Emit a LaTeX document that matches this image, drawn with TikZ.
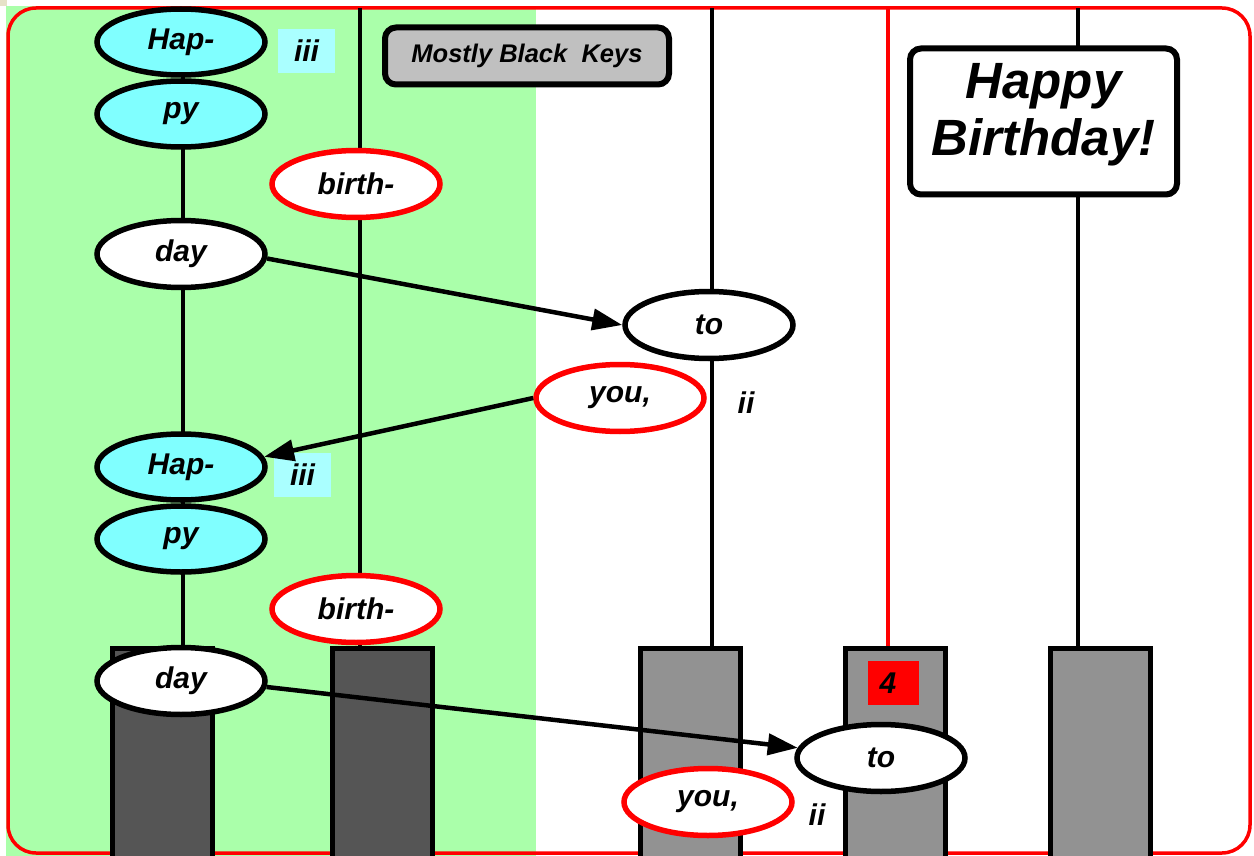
\documentclass[tikz,border=0pt]{standalone}
\usepackage{fontspec}
\setmainfont{Liberation Sans}
\usetikzlibrary{shapes.geometric,arrows.meta}
\definecolor{keygreen}{HTML}{AAFFAA}
\definecolor{cyanfill}{HTML}{80FFFF}
\definecolor{lightcyan}{HTML}{AAFFFF}
\definecolor{darkkey}{HTML}{555555}
\definecolor{lightkey}{HTML}{929292}
\definecolor{boxgray}{HTML}{C0C0C0}
\definecolor{cornertan}{HTML}{E6E2C8}
\begin{document}
\begin{tikzpicture}[x=1pt,y=-1pt,
  bi/.style={font=\fontsize{30}{35}\selectfont\bfseries\itshape},
  word/.style={ellipse, draw, line width=5.5pt, minimum width=168pt, minimum height=67pt, inner sep=0pt, fill=white, bi},
  cyanword/.style={word, fill=cyanfill, minimum height=66pt},
  redword/.style={word, draw=red},
  tagtext/.style={inner sep=0pt, bi},
  tagbox/.style={fill=lightcyan, minimum width=57pt, minimum height=44pt, inner sep=0pt, bi},
  keyline/.style={line width=4pt},
  darkbar/.style={rectangle, draw, line width=5pt, fill=darkkey, minimum width=100pt, minimum height=240pt, anchor=north, inner sep=0pt},
  lightbar/.style={darkbar, fill=lightkey},
  arrowline/.style={line width=4.5pt, -{Triangle[length=30pt,width=21pt]}},
  titlebox/.style={draw, line width=6pt, rounded corners=11pt, inner sep=0pt}
]
\useasboundingbox (0,0) rectangle (1254,856);
\fill[white] (0,0) rectangle (1254,856);
\fill[keygreen] (6,6) rectangle (536,856);
\fill[cornertan] (0,0) rectangle (7,6);
\draw[red, line width=3.5pt, rounded corners=28pt] (8,8) rectangle (1250,853);

% tops of the key lines
\coordinate (t1) at (183,8);
\coordinate (t2) at (360,8);
\coordinate (t3) at (712,8);
\coordinate (t4) at (888,8);
\coordinate (t5) at (1078,8);

% bars
\node[darkbar] (bar1) at (162.5,646) {};
\node[darkbar] (bar2) at (382.5,646) {};
\node[lightbar] (bar3) at (690.5,646) {};
\node[lightbar] (bar4) at (895.5,646) {};
\node[lightbar] (bar5) at (1100.5,646) {};

\draw[keyline] (t1) -- (t1 |- bar1.north);
\draw[keyline] (t2) -- (t2 |- bar2.north);
\draw[keyline] (t3) -- (t3 |- bar3.north);
\draw[keyline, red] (t4) -- (t4 |- bar4.north);
\draw[keyline] (t5) -- (t5 |- bar5.north);

% boxes
\node[titlebox, fill=boxgray, minimum width=284pt, minimum height=57pt, font=\fontsize{25.5}{30}\selectfont\bfseries\itshape] (keys) at (527,56) {Mostly Black\ \ Keys};
\node[titlebox, fill=white, minimum width=267pt, minimum height=146pt] (hb) at (1043.5,121.5) {};
\node[align=center, inner sep=0pt, font=\fontsize{51}{57}\selectfont\bfseries\itshape] (hbtext) at ([yshift=7pt]hb.center) {Happy\\Birthday!};

% words
\node[cyanword] (hap1) at (181,42) {Hap-};
\node[cyanword] (py1) at (181,114) {py};
\node[tagbox] (iii1) at (306.5,51) {iii};
\node[redword] (birth1) at (356,184) {birth-};
\node[word] (day1) at (181,254) {day};
\node[word] (to1) at (709,325) {to};
\node[redword] (you1) at (620,398) {you,};
\node[tagtext] (ii1) at (746,403) {ii};
\node[cyanword] (hap2) at (181,467) {Hap-};
\node[cyanword] (py2) at (181,539) {py};
\node[tagbox] (iii2) at (302.5,475) {iii};
\node[redword] (birth2) at (356,609) {birth-};
\node[word] (day2) at (181,681) {day};
\node[fill=red, minimum width=51pt, minimum height=44pt, inner sep=0pt, bi] (four) at (893,683) {};
\node[inner sep=0pt, bi] (fourtext) at ([xshift=-5pt]four.center) {4};
\node[word] (to2) at (881,758) {to};
\node[redword] (you2) at (708,802) {you,};
\node[tagtext] (ii2) at (817,815) {ii};

% arrows
\draw[arrowline] (day1.-3) -- (to1.west);
\draw[arrowline] (you1.west) -- (hap2.7);
\draw[arrowline] (day2.-4) -- (to2.173);
\end{tikzpicture}
\end{document}
